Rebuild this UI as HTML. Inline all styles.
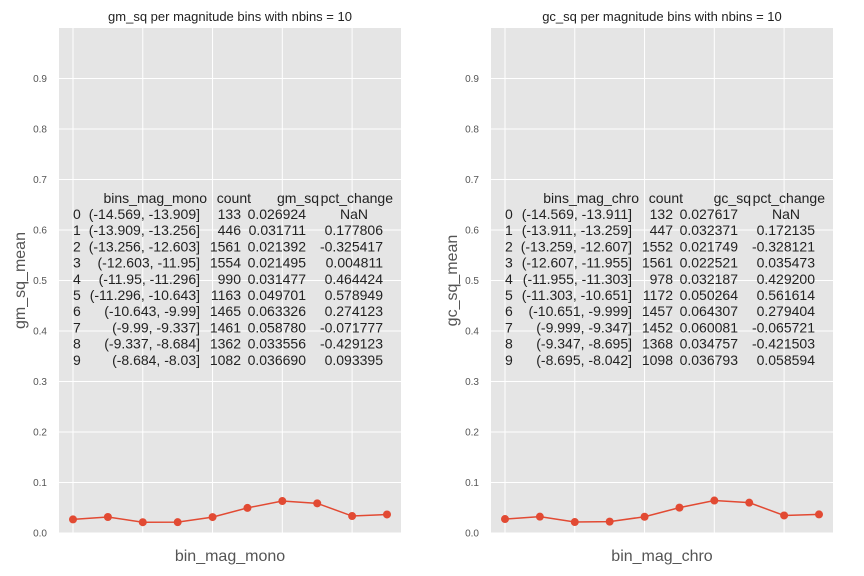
<!DOCTYPE html>
<html><head><meta charset="utf-8"><style>
html,body{margin:0;padding:0;background:#fff}
svg{display:block;font-family:"Liberation Sans",Arial,sans-serif}
</style></head><body>
<svg id="chart" width="864" height="576" viewBox="0 0 864 576"></svg>
<script>
const yTicks = [0.0,0.1,0.2,0.3,0.4,0.5,0.6,0.7,0.8,0.9];
const yTickLabels = ["0.0","0.1","0.2","0.3","0.4","0.5","0.6","0.7","0.8","0.9"];
const monoBins = ["(-14.569, -13.909]","(-13.909, -13.256]","(-13.256, -12.603]","(-12.603, -11.95]","(-11.95, -11.296]","(-11.296, -10.643]","(-10.643, -9.99]","(-9.99, -9.337]","(-9.337, -8.684]","(-8.684, -8.03]"];
const monoCount = [133,446,1561,1554,990,1163,1465,1461,1362,1082];
const monoMean = [0.026924,0.031711,0.021392,0.021495,0.031477,0.049701,0.063326,0.058780,0.033556,0.036690];
const monoPct = ["NaN","0.177806","-0.325417","0.004811","0.464424","0.578949","0.274123","-0.071777","-0.429123","0.093395"];
const chroBins = ["(-14.569, -13.911]","(-13.911, -13.259]","(-13.259, -12.607]","(-12.607, -11.955]","(-11.955, -11.303]","(-11.303, -10.651]","(-10.651, -9.999]","(-9.999, -9.347]","(-9.347, -8.695]","(-8.695, -8.042]"];
const chroCount = [132,447,1552,1561,978,1172,1457,1452,1368,1098];
const chroMean = [0.027617,0.032371,0.021749,0.022521,0.032187,0.050264,0.064307,0.060081,0.034757,0.036793];
const chroPct = ["NaN","0.172135","-0.328121","0.035473","0.429200","0.561614","0.279404","-0.065721","-0.421503","0.058594"];

const NS="http://www.w3.org/2000/svg";
const svg=document.getElementById('chart');
function mk(tag,attrs,parent,text){const e=document.createElementNS(NS,tag);for(const k in attrs)e.setAttribute(k,attrs[k]);if(text!==undefined)e.textContent=text;(parent||svg).appendChild(e);return e;}

function panel(x0,title,ylab,xlab,colName,binName,bins,counts,means,pcts,key){
  const w=342,top=28,bot=533;
  const g=mk('g',{});
  
  
  const bg=mk('rect',{x:x0,y:top,width:w,height:bot-top,fill:'#e5e5e5'},g);
  
  
  const ys=v=>bot-(v/1.0)*(bot-top);
  const n=means.length;
  const xs=i=>x0+14+i*(w-28)/(n-1);
  yTicks.forEach((t,i)=>{
    const gl=mk('line',{x1:x0,x2:x0+w,y1:ys(t),y2:ys(t),stroke:'#fff','stroke-width':1},g);
    
    
    const tl=mk('text',{x:x0-12,y:ys(t)+3.5,'text-anchor':'end','font-size':10,fill:'#555'},g,yTickLabels[i]);
    
    
  });
  for(let i=0;i<n;i+=2){
    const vl=mk('line',{x1:xs(i),x2:xs(i),y1:top,y2:bot,stroke:'#fff','stroke-width':1},g);
    
    
  }
  const t=mk('text',{x:x0+w/2,y:21,'text-anchor':'middle','font-size':13,fill:'#222'},g,title);
  
  
  const yl=mk('text',{x:0,y:0,transform:`translate(${x0-34},${(top+bot)/2}) rotate(-90)`,'text-anchor':'middle','font-size':16,fill:'#555'},g,ylab);
  
  
  const xl=mk('text',{x:x0+w/2,y:561,'text-anchor':'middle','font-size':16,fill:'#555'},g,xlab);
  
  
  const tb=mk('g',{'font-size':14,fill:'#222'},g);
  
  
  const o=x0-59;
  const h1=mk('text',{x:o+207,y:203,'text-anchor':'end'},tb,binName);
  
  
  const h2=mk('text',{x:o+251,y:203,'text-anchor':'end'},tb,'count');
  
  
  const h3=mk('text',{x:o+319,y:203,'text-anchor':'end'},tb,colName);
  
  
  const h4=mk('text',{x:o+393,y:203,'text-anchor':'end'},tb,'pct_change');
  
  
  for(let i=0;i<n;i++){
    const y=219+i*16.2;
    const r=mk('text',{x:o+73,y:y},tb,String(i));
    
    
    const b=mk('text',{x:o+200,y:y,'text-anchor':'end'},tb,bins[i]);
    
    
    const c=mk('text',{x:o+241,y:y,'text-anchor':'end'},tb,String(counts[i]));
    
    
    const m=mk('text',{x:o+306,y:y,'text-anchor':'end'},tb,means[i].toFixed(6));
    
    
    const p=mk('text',pcts[i]==='NaN'?{x:o+354,y:y,'text-anchor':'middle'}:{x:o+383,y:y,'text-anchor':'end'},tb,pcts[i]);
    
    
  }
  const pts=means.map((v,i)=>xs(i)+','+ys(v)).join(' ');
  const ln=mk('polyline',{points:pts,fill:'none',stroke:'#e24a33','stroke-width':1.5},g);
  
  
  means.forEach((v,i)=>{
    const c=mk('circle',{cx:xs(i),cy:ys(v),r:4,fill:'#e24a33'},g);
    
    
  });
}
panel(59,'gm_sq per magnitude bins with nbins = 10','gm_sq_mean','bin_mag_mono','gm_sq','bins_mag_mono',monoBins,monoCount,monoMean,monoPct,'mono');
panel(491,'gc_sq per magnitude bins with nbins = 10','gc_sq_mean','bin_mag_chro','gc_sq','bins_mag_chro',chroBins,chroCount,chroMean,chroPct,'chro');
</script>
</body></html>
